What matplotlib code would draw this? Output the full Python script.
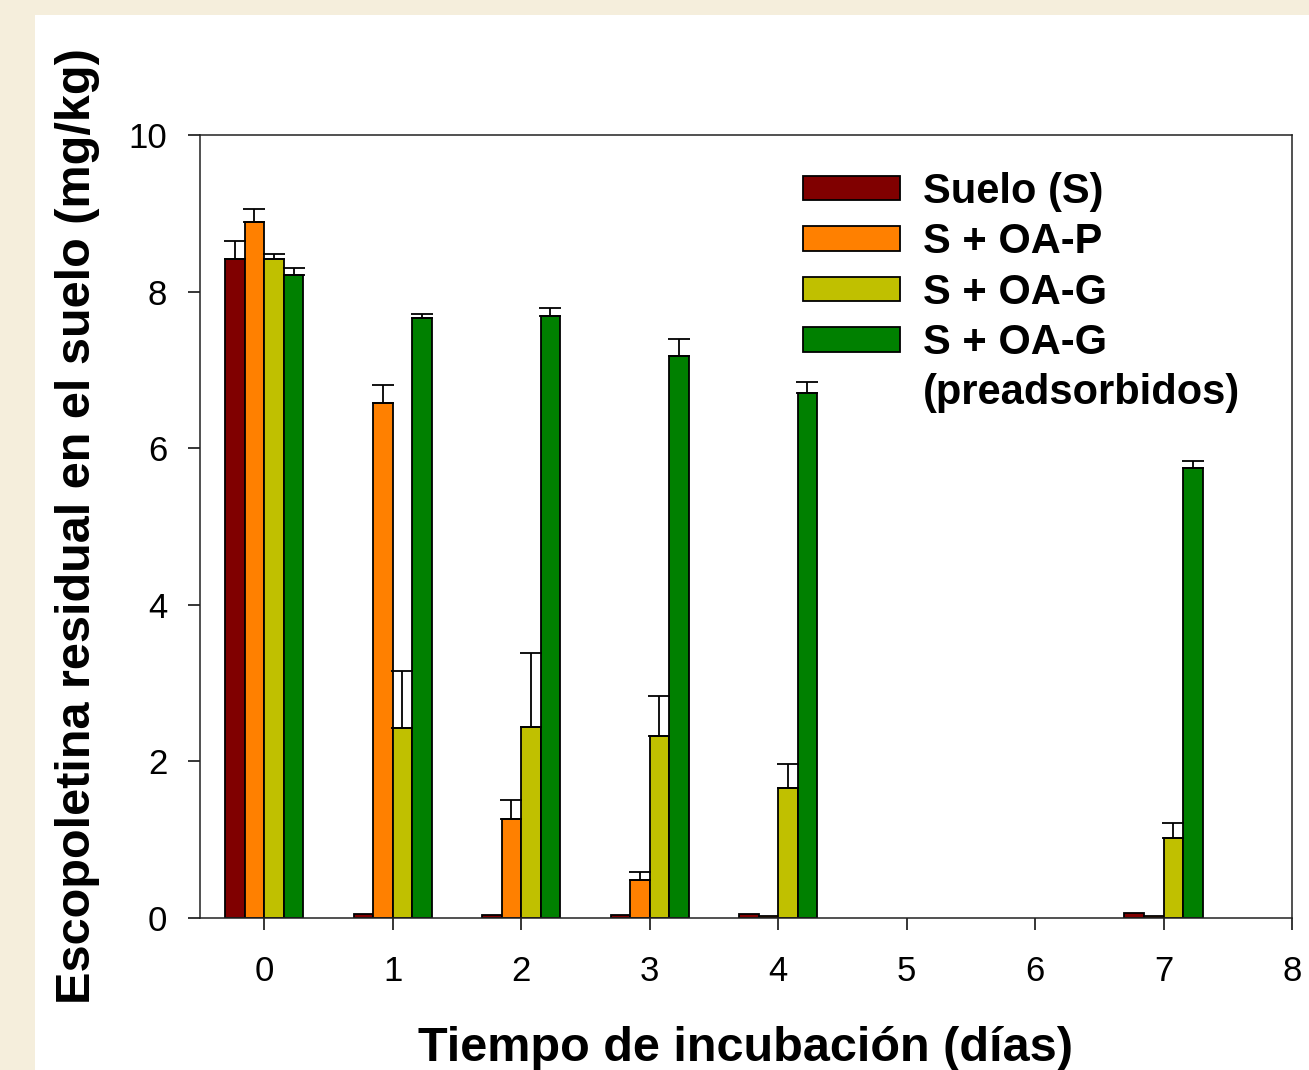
import numpy as np
import matplotlib
matplotlib.use("Agg")
import matplotlib.pyplot as plt
from matplotlib.patches import Rectangle

# Data
dias = [0, 1, 2, 3, 4, 7]
suelo = [8.41, 0.05, 0.04, 0.04, 0.05, 0.06]
suelo_err = [0.24, 0, 0, 0, 0, 0]
oa_p = [8.89, 6.58, 1.26, 0.49, 0.02, 0.02]
oa_p_err = [0.16, 0.23, 0.25, 0.10, 0, 0]
oa_g = [8.41, 2.43, 2.44, 2.32, 1.66, 1.02]
oa_g_err = [0.07, 0.72, 0.95, 0.51, 0.31, 0.19]
oa_g_pre = [8.21, 7.66, 7.69, 7.18, 6.70, 5.75]
oa_g_pre_err = [0.09, 0.05, 0.10, 0.21, 0.15, 0.09]

labels = ["Suelo (S)", "S + OA-P", "S + OA-G", "S + OA-G"]
extra_label = "(preadsorbidos)"
colors = ["#800000", "#FF8000", "#C0C000", "#008000"]
series = [(suelo, suelo_err), (oa_p, oa_p_err), (oa_g, oa_g_err), (oa_g_pre, oa_g_pre_err)]
xticks = [0, 1, 2, 3, 4, 5, 6, 7, 8]
yticks = [0, 2, 4, 6, 8, 10]

plt.rcParams['font.family'] = ['Liberation Sans', 'DejaVu Sans']

fig = plt.figure(figsize=(13.09, 10.70), dpi=100, facecolor="#F5EEDC")
# white panel behind the plot
fig.patches.append(Rectangle((35 / 1309, 0), 1 - 35 / 1309, 1 - 15 / 1070,
                             transform=fig.transFigure, facecolor="white",
                             edgecolor="none", zorder=-10))

ax = fig.add_axes([200 / 1309, 1 - 918 / 1070, 1092 / 1309, 783 / 1070])
ax.set_facecolor("white")
ax.set_zorder(1)

x = np.array(dias, dtype=float)
w = 0.152
offsets = [-1.5, -0.5, 0.5, 1.5]

handles = []
for (vals, errs), off, col, lab in zip(series, offsets, colors, labels):
    vals = np.array(vals)
    errs = np.array(errs)
    xpos = x + off * w
    b = ax.bar(xpos, vals, width=w, color=col, edgecolor="black", linewidth=1.3,
               label=lab, zorder=2)
    handles.append(b)
    m = errs > 0
    ax.errorbar(xpos[m], vals[m], yerr=[np.zeros(m.sum()), errs[m]], fmt="none",
                ecolor="black", elinewidth=1.3, capsize=8, capthick=1.3, zorder=3)

ax.set_xlim(-0.5, 8)
ax.set_ylim(0, 10)
ax.set_xticks(xticks)
ax.set_yticks(yticks)
ax.tick_params(axis="both", direction="out", length=8.5, width=1.1,
               labelsize=25, colors="black")
ax.tick_params(axis="x", pad=18)
ax.tick_params(axis="y", pad=15)
for sp in ax.spines.values():
    sp.set_linewidth(1.1)
    sp.set_color("#222222")

ax.set_xlabel("Tiempo de incubación (días)", fontsize=35, fontweight="bold")
ax.xaxis.set_label_coords(0.5, -0.138)
ax.set_ylabel("Escopoletina residual en el suelo (mg/kg)", fontsize=35, fontweight="bold")
ax.yaxis.set_label_coords(-0.092, 0.5)

# second line of the last label goes on its own row with an empty handle
blank = Rectangle((0, 0), 1, 1, facecolor="none", edgecolor="none")
ax.legend(handles + [blank], labels + [extra_label],
          loc="upper left", bbox_to_anchor=(0.552, 0.953), frameon=False,
          prop={"size": 30, "weight": "bold"}, borderpad=0, borderaxespad=0,
          handlelength=2.33, handleheight=0.53, handletextpad=0.55,
          labelspacing=0.25)

plt.savefig("out.png", dpi=100, facecolor=fig.get_facecolor())
